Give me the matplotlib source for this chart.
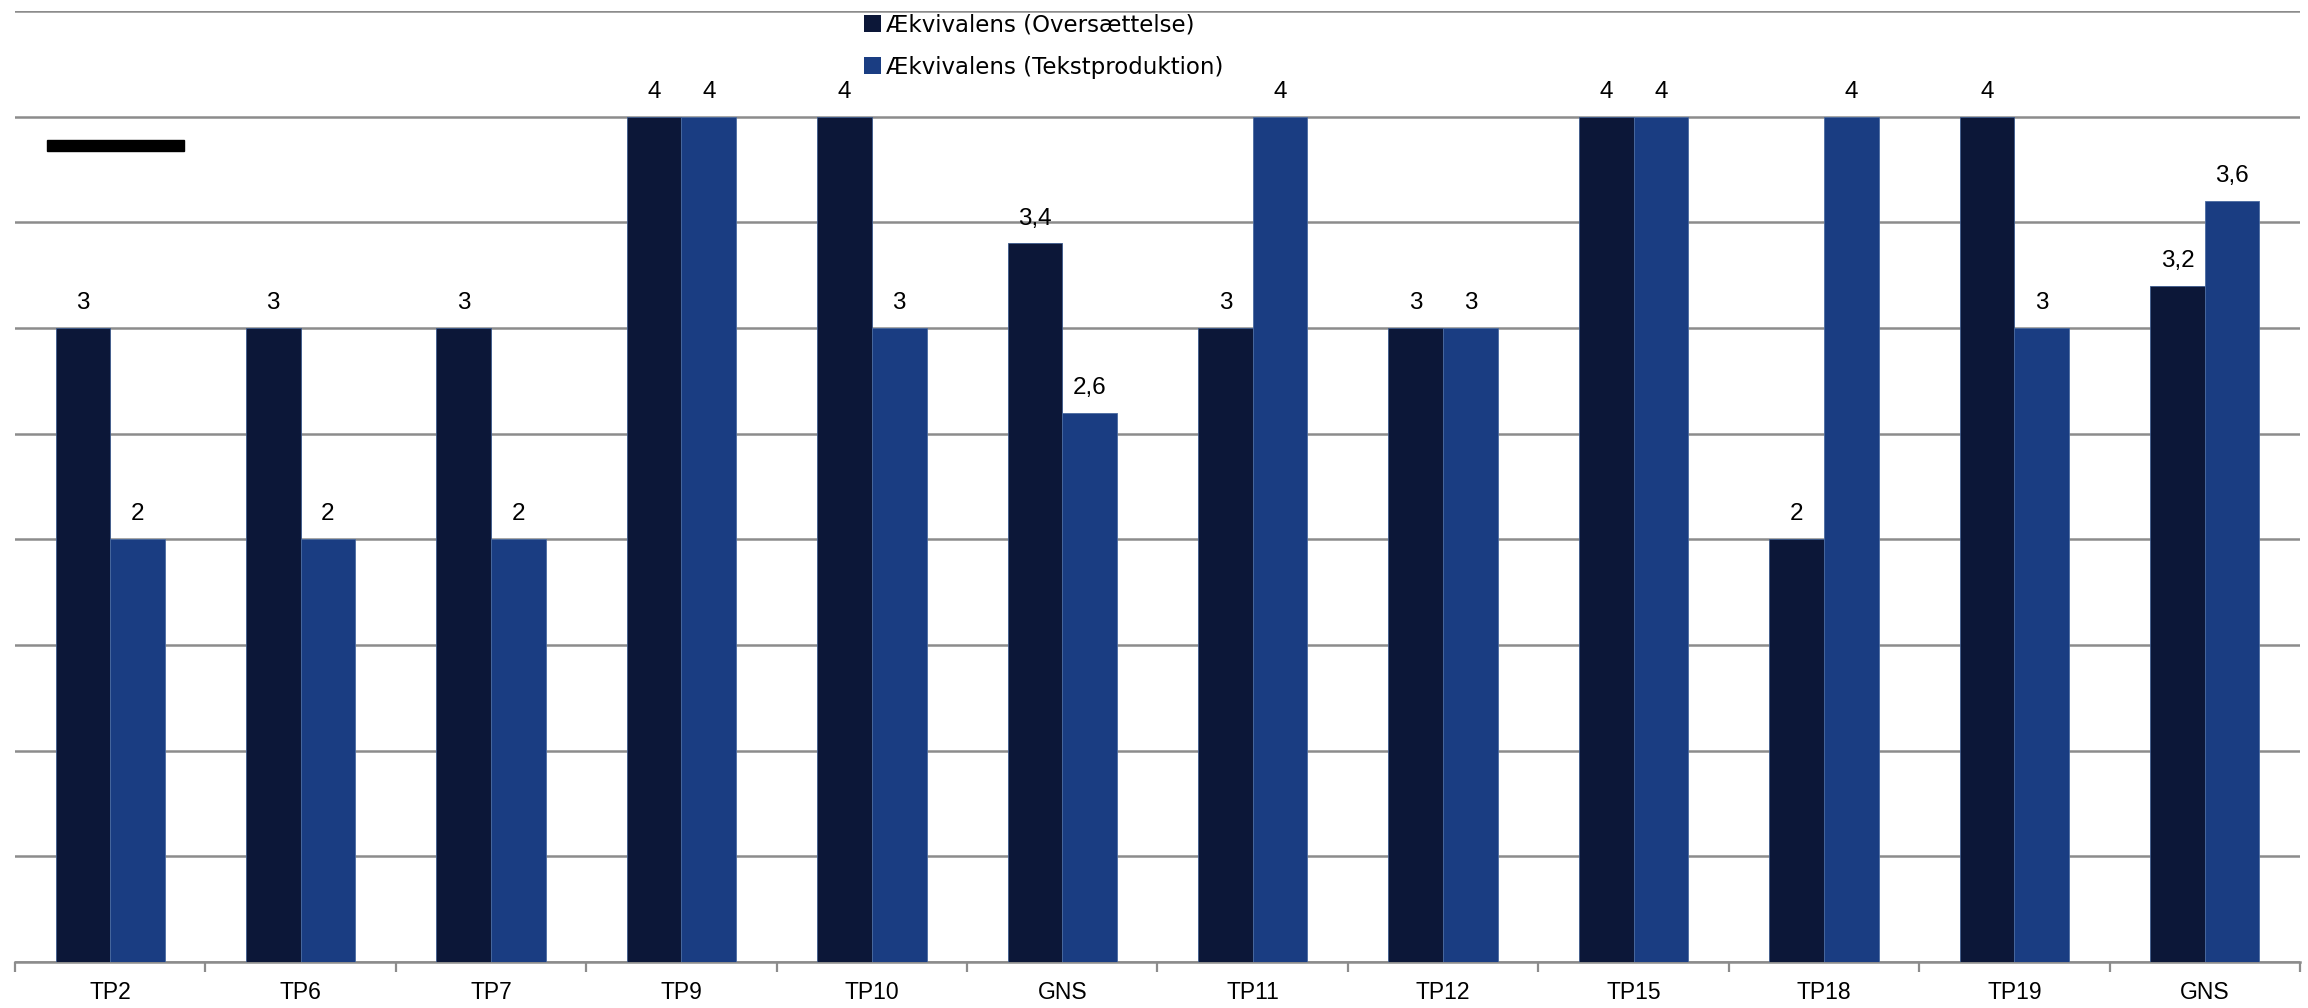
import numpy as np
from matplotlib import pyplot as plt
from matplotlib.patches import Rectangle

categories = ['TP2', 'TP6', 'TP7', 'TP9', 'TP10', 'GNS', 'TP11', 'TP12', 'TP15', 'TP18', 'TP19', 'GNS']
oversaettelse = [3, 3, 3, 4, 4, 3.4, 3, 3, 4, 2, 4, 3.2]
tekstproduktion = [2, 2, 2, 4, 3, 2.6, 4, 3, 4, 4, 3, 3.6]
series_names = ['Ækvivalens (Oversættelse)', 'Ækvivalens (Tekstproduktion)']
colors = ['#0c1738', '#1a3d82']

plt.rcParams['font.family'] = ['Liberation Sans', 'DejaVu Sans']

fig = plt.figure(figsize=(23.08, 10.08), dpi=100)
ax = fig.add_axes([15/2308, 46/1008, 2285/2308, 951/1008])

x = np.arange(len(categories))
w = 0.287
b1 = ax.bar(x - w/2, oversaettelse, w, color=colors[0], edgecolor='#3c5a8c', linewidth=0.6,
            label=series_names[0], zorder=3)
b2 = ax.bar(x + w/2, tekstproduktion, w, color=colors[1], edgecolor='#4a6aa0', linewidth=0.6,
            label=series_names[1], zorder=3)

def fmt(v):
    return f'{v:g}'.replace('.', ',')

for bars, vals in ((b1, oversaettelse), (b2, tekstproduktion)):
    for r, v in zip(bars, vals):
        ax.annotate(fmt(v), (r.get_x() + r.get_width()/2, v), xytext=(0, 10),
                    textcoords='offset points', ha='center', va='bottom', fontsize=17.5)

ax.set_xlim(-0.5, len(categories) - 0.5)
ax.set_ylim(0, 4.5)
ax.set_yticks(np.arange(0, 4.51, 0.5))
ax.yaxis.grid(True, color='#8c8c8c', linewidth=1.8, zorder=0)
ax.tick_params(axis='y', left=False, labelleft=False)

ax.set_xticks(x)
ax.set_xticklabels(categories, fontsize=16.5)
ax.set_xticks(np.arange(-0.5, len(categories)), minor=True)
ax.tick_params(axis='x', which='major', length=0, pad=14)
ax.tick_params(axis='x', which='minor', length=7, width=1.6, color='#8c8c8c')

for s in ('left', 'right', 'top'):
    ax.spines[s].set_visible(False)
ax.spines['bottom'].set_color('#8c8c8c')
ax.spines['bottom'].set_linewidth(1.8)

leg = fig.legend(loc='upper left', bbox_to_anchor=(855/2308, 1 - 4/1008), frameon=False,
                 prop={'family': 'DejaVu Sans', 'size': 16.5}, handlelength=0.75, handleheight=0.75,
                 handletextpad=0.2, labelspacing=0.85, borderaxespad=0)
for h in leg.legend_handles:
    h.set_linewidth(0)

# short black bar in the upper left corner
fig.patches.append(Rectangle((47/2308, 1 - 151/1008), 137/2308, 11/1008,
                             transform=fig.transFigure, color='black', zorder=5))

fig.savefig('out.png', dpi=100)
